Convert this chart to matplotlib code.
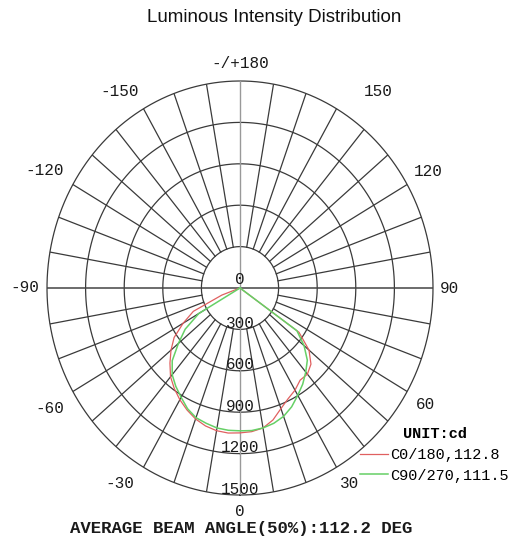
import numpy as np
import matplotlib
matplotlib.use('Agg')
import matplotlib.pyplot as plt

# C0/180 plane (red), angle from nadir in degrees, intensity in cd
c0_angles = [-75, -70, -65, -60, -55, -50, -45, -40, -35, -30, -25, -20, -15, -10, -5,
             0, 5, 10, 15, 20, 25, 30, 35, 40, 45, 50, 55, 60]
c0_values = [0, 150, 400, 510, 625, 700, 770, 840, 890, 935, 975, 1010, 1035, 1050, 1055,
             1050, 1045, 1030, 990, 930, 885, 855, 815, 815, 780, 700, 560, 0]

# C90/270 plane (green)
c90_angles = [-65, -60, -55, -50, -45, -40, -35, -30, -25, -20, -15, -10, -5,
              0, 5, 10, 15, 20, 25, 30, 35, 40, 45, 50, 55, 60]
c90_values = [0, 370, 520, 625, 745, 820, 870, 915, 965, 1000, 1015, 1030, 1035,
              1035, 1037, 1030, 1015, 990, 950, 898, 850, 795, 740, 650, 540, 0]

ring_values = [300, 600, 900, 1200, 1500]
angle_labels = ['0', '30', '60', '90', '120', '150', '-/+180', '-150', '-120', '-90', '-60', '-30']
angle_label_deg = [0, 30, 60, 90, 120, 150, 180, -150, -120, -90, -60, -30]

legend_labels = ['C0/180,112.8', 'C90/270,111.5']
beam_text = 'AVERAGE BEAM ANGLE(50%):112.2 DEG'

mono = 'Liberation Mono'
txt_col = '#1a1a1a'

fig = plt.figure(figsize=(5.17, 5.44), dpi=100)
ax = fig.add_axes([47/517, 49/544, 386/517, 414/544], projection='polar')
ax.set_aspect('auto')
ax.set_theta_zero_location('S')
ax.set_theta_direction(1)
ax.set_ylim(0, 1500)
ax.grid(False)
ax.set_xticks([])
ax.set_yticks([])
ax.spines['polar'].set_visible(False)
ax.patch.set_facecolor('white')

# rings
th = np.linspace(0, 2*np.pi, 400)
for r in ring_values:
    ax.plot(th, np.full_like(th, r), color='#3a3a3a', lw=0.9, clip_on=False)

# spokes every 10 degrees (start at the inner ring)
for d in range(0, 360, 10):
    if d % 90 == 0:
        continue
    ax.plot([np.radians(d)] * 2, [300, 1500], color='#3a3a3a', lw=0.9)

# main axes through the centre
ax.plot([np.pi/2, np.pi/2], [0, 1500], color='#444444', lw=1.1)
ax.plot([-np.pi/2, -np.pi/2], [0, 1500], color='#444444', lw=1.1)
ax.plot([0, 0], [0, 1500], color='#999999', lw=1.0)
ax.plot([np.pi, np.pi], [0, 1500], color='#999999', lw=1.0)

# curves
l1, = ax.plot(np.radians(c0_angles), c0_values, color='#e06060', lw=0.9)
l2, = ax.plot(np.radians(c90_angles), c90_values, color='#66d066', lw=1.1)

# radial labels
ax.text(np.pi, 58, '0', fontfamily=mono, fontsize=11.5, color=txt_col,
        ha='center', va='center')
for r in ring_values:
    ax.text(0, r - 43, str(r), fontfamily=mono, fontsize=11.5, color=txt_col,
            ha='center', va='center')

# angle labels (placement tuned per label)
label_pos = {0: (0, 1620), 30: (31, 1650), 60: (59.5, 1670), 90: (90, 1630),
             120: (120, 1685), 150: (143, 1780), 180: (180, 1630),
             -150: (-146.7, 1700), -120: (-119.4, 1740), -90: (-90, 1670),
             -60: (-59.5, 1714), -30: (-33.4, 1693)}
for lab, d in zip(angle_labels, angle_label_deg):
    a, r = label_pos[d]
    ax.text(np.radians(a), r, lab, fontfamily=mono, fontsize=11.5, color=txt_col,
            ha='center', va='center')

leg = ax.legend([l1, l2], legend_labels, title='UNIT:cd', loc='upper left',
                bbox_to_anchor=(360/517, 1 - 427/544), bbox_transform=fig.transFigure,
                frameon=False, borderpad=0, borderaxespad=0, handlelength=1.8,
                handletextpad=0.2, labelspacing=0.45,
                prop={'family': mono, 'size': 11})
leg.get_title().set_fontfamily(mono)
leg.get_title().set_fontweight('bold')
leg.get_title().set_fontsize(11)
leg._legend_box.align = 'center'

fig.text(274/517, 1 - 17/544, 'Luminous Intensity Distribution',
         fontfamily='Liberation Sans', fontsize=13.5, ha='center', va='center', color='#111111')
fig.text(241/517, 1 - 528/544, beam_text, fontfamily=mono, fontweight='bold',
         fontsize=12.5, ha='center', va='center', color=txt_col)

fig.savefig('out.png', dpi=100, facecolor='white')
